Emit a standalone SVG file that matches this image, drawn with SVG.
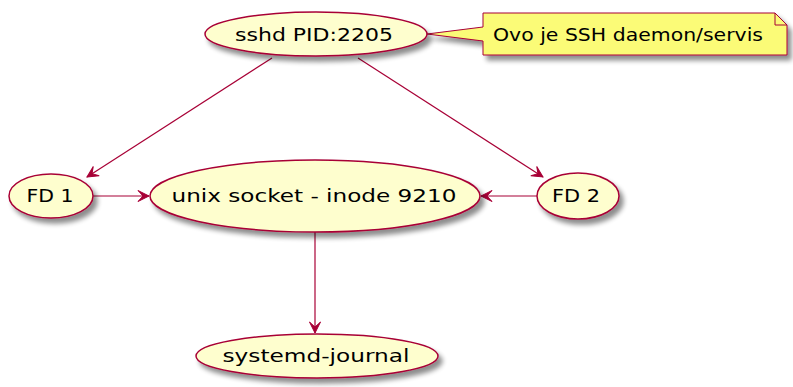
<svg xmlns="http://www.w3.org/2000/svg" width="793" height="387" viewBox="0 0 793 387">
<style>
.node{fill:#FEFECE;stroke:#A80036;stroke-width:1.5;filter:url(#sh)}
.note{fill:#FBFB77;stroke:#A80036;stroke-width:1;filter:url(#sh)}
.fold{fill:none;stroke:#A80036;stroke-width:1}
.lbl{font-family:"DejaVu Sans",sans-serif;font-size:18px;fill:#000;text-anchor:middle}
.edge{stroke:#A80036;stroke-width:1.2;fill:none;marker-end:url(#ah)}
</style>
<defs>
<filter id="sh" x="-20%" y="-30%" width="150%" height="180%">
<feGaussianBlur in="SourceAlpha" stdDeviation="2.5"/>
<feOffset dx="4" dy="5" result="b"/>
<feComponentTransfer><feFuncA type="linear" slope="0.45"/></feComponentTransfer>
<feMerge><feMergeNode/><feMergeNode in="SourceGraphic"/></feMerge>
</filter>
<marker id="ah" markerUnits="userSpaceOnUse" viewBox="-13 -7 15 14" refX="0" refY="0" markerWidth="15" markerHeight="14" orient="auto">
<path d="M0,0 L-11,-5.5 L-6,0 L-11,5.5 Z" fill="#A80036" stroke="#A80036" stroke-width="1"/>
</marker>
</defs>
<g id="connectors">
<line class="edge" x1="272" y1="58" x2="87" y2="177"/>
<line class="edge" x1="358" y1="58" x2="543" y2="177"/>
<line class="edge" x1="93" y1="196" x2="149" y2="196"/>
<line class="edge" x1="537" y1="196" x2="481" y2="196"/>
<line class="edge" x1="315" y1="232" x2="315" y2="333"/>
</g>
<g id="note">
<path class="note" d="M483,13 L483,27 L427,34 L483,41 L483,55 L787,55 L787,25 L775,13 Z"/>
<path class="fold" d="M775,13 L775,25 L787,25"/>
<text class="lbl" x="628" y="41" textLength="270" lengthAdjust="spacingAndGlyphs">Ovo je SSH daemon/servis</text>
</g>
<g id="sshd">
<ellipse class="node" cx="316" cy="34" rx="111" ry="22"/>
<text class="lbl" x="314" y="41" textLength="158" lengthAdjust="spacingAndGlyphs">sshd PID:2205</text>
</g>
<g id="fd1">
<ellipse class="node" cx="51" cy="196" rx="42" ry="22"/>
<text class="lbl" x="50" y="202" textLength="47" lengthAdjust="spacingAndGlyphs">FD 1</text>
</g>
<g id="unix">
<ellipse class="node" cx="315" cy="196" rx="165" ry="36"/>
<text class="lbl" x="314" y="202" textLength="285" lengthAdjust="spacingAndGlyphs">unix socket - inode 9210</text>
</g>
<g id="fd2">
<ellipse class="node" cx="578" cy="196" rx="41" ry="23"/>
<text class="lbl" x="576" y="202" textLength="48" lengthAdjust="spacingAndGlyphs">FD 2</text>
</g>
<g id="journal">
<ellipse class="node" cx="317" cy="356" rx="121" ry="22"/>
<text class="lbl" x="316" y="362" textLength="187" lengthAdjust="spacingAndGlyphs">systemd-journal</text>
</g>
</svg>
